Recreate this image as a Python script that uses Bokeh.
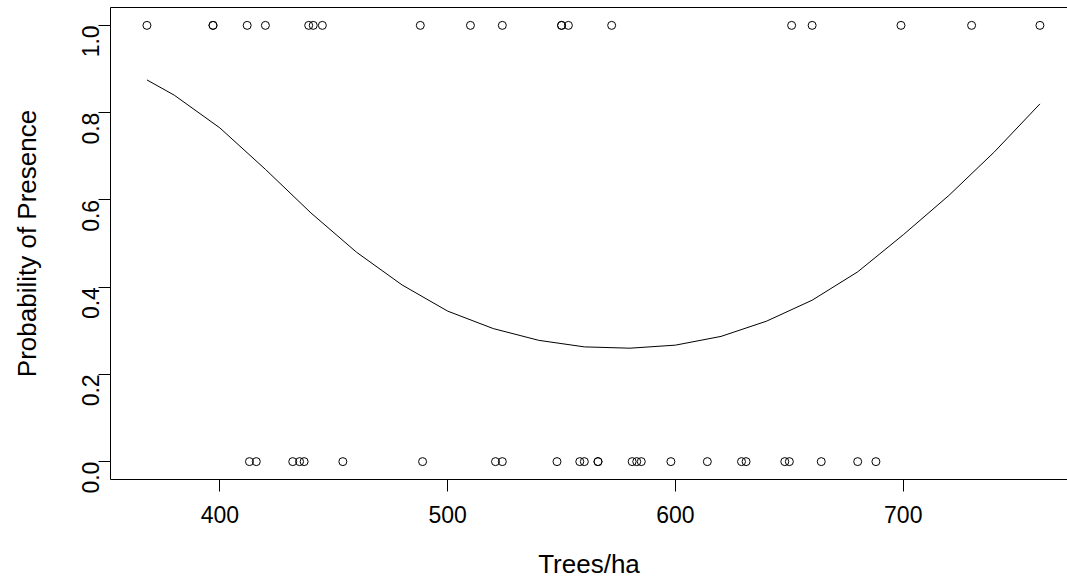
import math
from bokeh.plotting import figure
from bokeh.models import Range1d, FixedTicker, PrintfTickFormatter, LinearAxis
from bokeh.embed import file_html
from bokeh.resources import INLINE

# Observed presence (y = 1) and absence (y = 0) at tree density (trees/ha)
present_x = [368, 397, 397, 412, 420, 439, 441, 445, 488, 510, 524, 550, 550, 553,
             572, 651, 660, 699, 730, 760]
present_y = [1.0] * len(present_x)
absent_x = [413, 416, 432, 435, 437, 454, 489, 521, 524, 548, 558, 560, 566, 566,
            581, 583, 585, 598, 614, 629, 631, 648, 650, 664, 680, 688]
absent_y = [0.0] * len(absent_x)

# Fitted probability curve
curve_x = [368, 380, 400, 420, 440, 460, 480, 500, 520, 540, 560, 580, 600, 620,
           640, 660, 680, 700, 720, 740, 760]
curve_p = [0.875, 0.84, 0.765, 0.67, 0.57, 0.48, 0.405, 0.345, 0.305, 0.278, 0.263,
           0.26, 0.267, 0.287, 0.322, 0.37, 0.435, 0.52, 0.61, 0.71, 0.82]

x_ticks = [400, 500, 600, 700]
y_ticks = [0.0, 0.2, 0.4, 0.6, 0.8, 1.0]

FONT = "Liberation Sans"

p = figure(width=1067, height=581, output_backend="svg", toolbar_location=None,
           x_range=Range1d(352.0, 772.1), y_range=Range1d(-0.041, 1.041),
           min_border_left=110, min_border_right=0, min_border_top=7,
           min_border_bottom=99, x_axis_label="Trees/ha",
           y_axis_label="Probability of Presence")
p.grid.visible = False
p.outline_line_color = None
p.background_fill_color = "white"
p.border_fill_color = "white"

for ax in (p.xaxis[0], p.yaxis[0]):
    ax.axis_line_color = "black"
    ax.axis_line_width = 1
    ax.major_tick_line_color = "black"
    ax.major_tick_out = 12
    ax.major_tick_in = 0
    ax.minor_tick_line_color = None
    ax.major_label_text_font = FONT
    ax.major_label_text_font_size = "23px"
    ax.major_label_text_color = "black"
    ax.axis_label_text_font = FONT
    ax.axis_label_text_font_size = "26px"
    ax.axis_label_text_font_style = "normal"
    ax.axis_label_text_color = "black"

p.xaxis[0].ticker = FixedTicker(ticks=x_ticks)
p.xaxis[0].major_label_standoff = 14
p.xaxis[0].axis_label_standoff = 23

p.yaxis[0].ticker = FixedTicker(ticks=y_ticks)
p.yaxis[0].formatter = PrintfTickFormatter(format="%.1f")
p.yaxis[0].major_label_orientation = math.pi / 2
p.yaxis[0].major_label_standoff = 8
p.yaxis[0].axis_label_standoff = 29

top = LinearAxis(ticker=FixedTicker(ticks=[]), major_tick_out=0, major_tick_in=0,
                 minor_tick_out=0, minor_tick_in=0, major_label_standoff=0,
                 axis_line_color="black", major_label_text_font_size="0px")
p.add_layout(top, "above")

p.line(curve_x, curve_p, line_color="black", line_width=1)
p.scatter(present_x, present_y, marker="circle", size=8, fill_color=None,
          line_color="black", line_width=1)
p.scatter(absent_x, absent_y, marker="circle", size=8, fill_color=None,
          line_color="black", line_width=1)

open("out.html", "w").write(file_html(p, INLINE))
